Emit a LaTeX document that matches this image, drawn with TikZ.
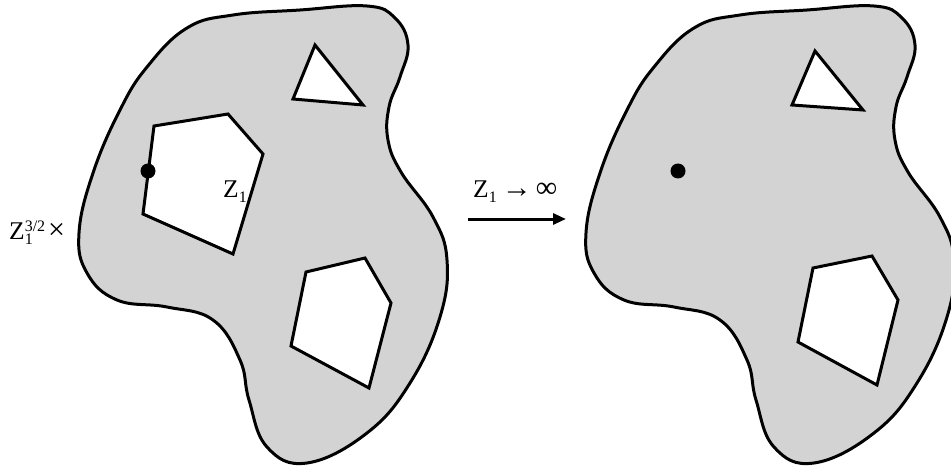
\documentclass[tikz,border=0pt]{standalone}
\usepackage{fontspec}
\setmainfont{Liberation Serif}
\usetikzlibrary{arrows.meta}
\definecolor{blobgray}{RGB}{211,211,211}
\newcommand\bigtext{\fontsize{25.5}{28}\selectfont}
\newcommand\symtext{\fontsize{30}{30}\selectfont}
\tikzset{
  blob/.style={draw=black, line width=3pt, fill=blobgray},
  hole/.style={draw=black, line width=3pt, fill=white, line join=miter},
  lbl/.style={anchor=base west, inner sep=0pt},
  flow/.style={line width=3pt, -{Triangle[length=13pt,width=11pt]}}
}
\newcommand\drawblob{%
  \path[blob] plot[smooth cycle, tension=0.7] coordinates {
    (187,28) (233,15) (300,10) (367,6) (395,18) (408,45) (400,77) (389,107)
    (388,140) (401,172) (433,217) (447,260) (440,317) (410,383) (367,433)
    (307,463) (267,447) (249,400) (240,360) (213,320) (167,307) (117,300)
    (87,273) (79,233) (93,173) (120,110) (147,67)};}
\newcommand\subone{\raisebox{-5pt}{\fontsize{16}{16}\selectfont 1}}
\begin{document}
\begin{tikzpicture}[x=1pt,y=-1pt]
\useasboundingbox (0,0) rectangle (951,468);
% left domain
\drawblob
\draw[hole] (315,45) -- (363,105) -- (293,99) -- cycle;
\draw[hole] (154,126) -- (228,114) -- (263,154) -- (233,254) -- (143,214) -- cycle;
\draw[hole] (306,272) -- (365,258) -- (391,303) -- (369,388) -- (291,346) -- cycle;
\node[circle, fill=black, inner sep=0pt, minimum size=15pt] (p1) at (148,171) {};
\node[lbl] (zl) at (223,197) {\bigtext Z\subone};
\node[lbl] (zpow) at (9,240) {\bigtext Z\rlap{\subone}\raisebox{9pt}{\fontsize{16}{16}\selectfont 3/2}\hspace{3pt}{\symtext ×}};
% arrow
\coordinate (a1) at (468,219);
\coordinate (a2) at (566,219);
\draw[flow] (a1) -- (a2);
\node[lbl] (zarr) at (473,197) {\bigtext Z\subone\hspace{5pt}{\symtext →}\hspace{4pt}{\symtext ∞}};
% right domain
\begin{scope}[shift={(507,0)}]
\drawblob
\end{scope}
\draw[hole] (815,51) -- (863,110) -- (792,105) -- cycle;
\draw[hole] (813,268) -- (872,256) -- (898,300) -- (877,385) -- (798,342) -- cycle;
\node[circle, fill=black, inner sep=0pt, minimum size=15pt] (p2) at (678,171) {};
\end{tikzpicture}
\end{document}
